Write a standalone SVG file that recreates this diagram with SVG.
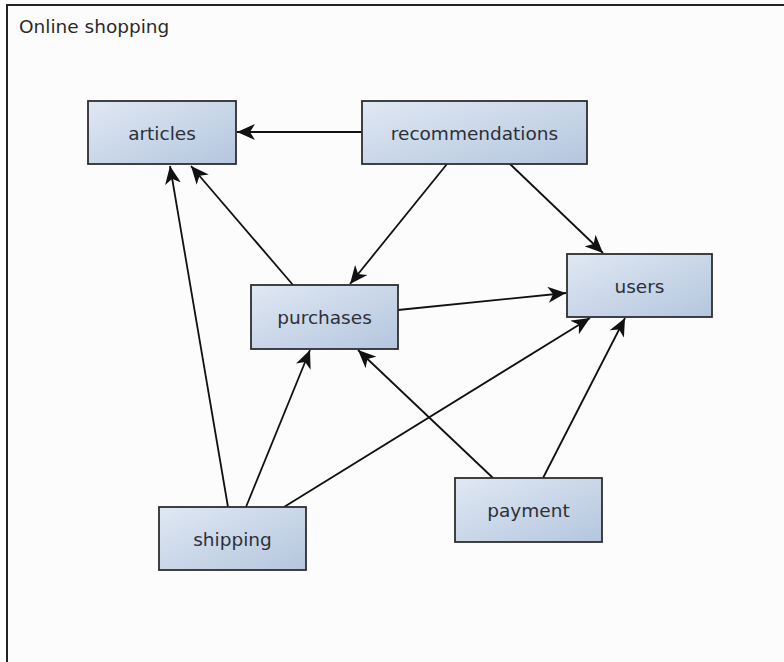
<svg xmlns="http://www.w3.org/2000/svg" width="784" height="662" viewBox="0 0 784 662">
  <style>
    .node rect { fill: url(#nodeFill); stroke: #2e2e2e; stroke-width: 1.8; }
    .node text { font-family: "DejaVu Sans", sans-serif; font-size: 18.5px; fill: #2c3038; text-anchor: middle; }
    .title { font-family: "DejaVu Sans", sans-serif; font-size: 18.5px; fill: #2a2a2a; }
    .edge { stroke: #111; stroke-width: 1.8; fill: none; marker-end: url(#arrow); }
  </style>
  <defs>
    <linearGradient id="nodeFill" x1="0" y1="0" x2="1" y2="1">
      <stop offset="0" stop-color="#e0e8f3"/>
      <stop offset="1" stop-color="#b4c6de"/>
    </linearGradient>
    <marker id="arrow" markerUnits="userSpaceOnUse" markerWidth="20" markerHeight="16" refX="18" refY="8" orient="auto">
      <path d="M0,0 L18,8 L0,16 L5,8 z" fill="#111"/>
    </marker>
  </defs>

  <!-- canvas and frame -->
  <rect x="0" y="0" width="784" height="662" fill="#ffffff"/>
  <rect x="7" y="5" width="790" height="670" fill="#fcfcfc" stroke="#222" stroke-width="2"/>
  <text class="title" x="19" y="33">Online shopping</text>

  <!-- connectors -->
  <g id="edges">
    <line class="edge" x1="362" y1="132" x2="237" y2="132"/>
    <line class="edge" x1="447" y1="164" x2="350" y2="284"/>
    <line class="edge" x1="510" y1="164" x2="603" y2="253"/>
    <line class="edge" x1="293" y1="285" x2="191" y2="166"/>
    <line class="edge" x1="398" y1="310" x2="566" y2="293"/>
    <line class="edge" x1="228" y1="507" x2="170" y2="166"/>
    <line class="edge" x1="246" y1="507" x2="310" y2="350"/>
    <line class="edge" x1="284" y1="507" x2="590" y2="318"/>
    <line class="edge" x1="493" y1="478" x2="358" y2="350"/>
    <line class="edge" x1="543" y1="478" x2="625" y2="318"/>
  </g>

  <!-- nodes -->
  <g id="articles" class="node">
    <rect x="88" y="101" width="148" height="63"/>
    <text x="162" y="140">articles</text>
  </g>
  <g id="recommendations" class="node">
    <rect x="362" y="101" width="225" height="63"/>
    <text x="474.5" y="140">recommendations</text>
  </g>
  <g id="purchases" class="node">
    <rect x="251" y="285" width="147" height="64"/>
    <text x="324.5" y="324">purchases</text>
  </g>
  <g id="users" class="node">
    <rect x="567" y="254" width="145" height="63"/>
    <text x="639.5" y="293">users</text>
  </g>
  <g id="shipping" class="node">
    <rect x="159" y="507" width="147" height="63"/>
    <text x="232.5" y="546">shipping</text>
  </g>
  <g id="payment" class="node">
    <rect x="455" y="478" width="147" height="64"/>
    <text x="528.5" y="517">payment</text>
  </g>
</svg>
